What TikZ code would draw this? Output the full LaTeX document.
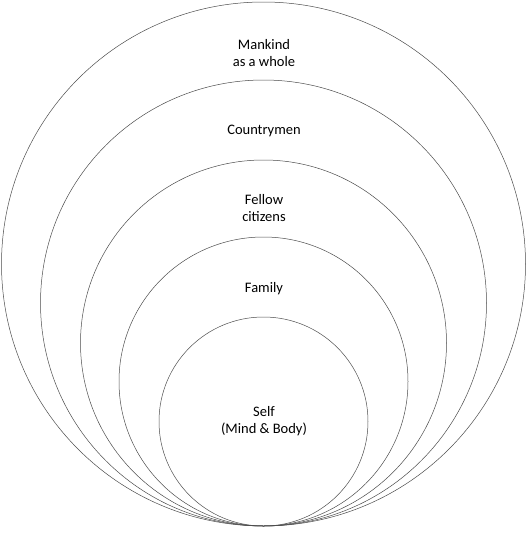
\documentclass[tikz,border=0pt]{standalone}
\usepackage{fontspec}
\setmainfont{Carlito}
\usepackage{tikz}

\begin{document}
\begin{tikzpicture}[x=1pt,y=-1pt,
    ring/.style={circle,draw=black!70,line width=0.5pt,inner sep=0pt,outer sep=0pt},
    lbl/.style={align=center,font=\fontsize{14.5}{17}\selectfont,inner sep=0pt}]
            \useasboundingbox (0,0) rectangle (528,533);

            % The rings, all touching at the bottom
            \node[ring,minimum size=524pt] (mankind) at (263.5,264) {};
            \node[ring,minimum size=446pt] (country) at (263.5,303) {};
            \node[ring,minimum size=366pt] (citizens) at (263.5,343) {};
            \node[ring,minimum size=289pt] (family) at (263.5,381.5) {};
            \node[ring,minimum size=209pt] (self) at (263.5,421.5) {};

            % The labels
            \node[lbl] (tmankind) at (264,53) {Mankind\\as a whole};
            \node[lbl] (tcountry) at (264,131) {Countrymen};
            \node[lbl] (tcitizens) at (264,208.5) {Fellow\\citizens};
            \node[lbl] (tfamily) at (264,289) {Family};
            \node[lbl] (tself) at (264,421.5) {Self\\(Mind \& Body)};
        \end{tikzpicture}
\end{document}
